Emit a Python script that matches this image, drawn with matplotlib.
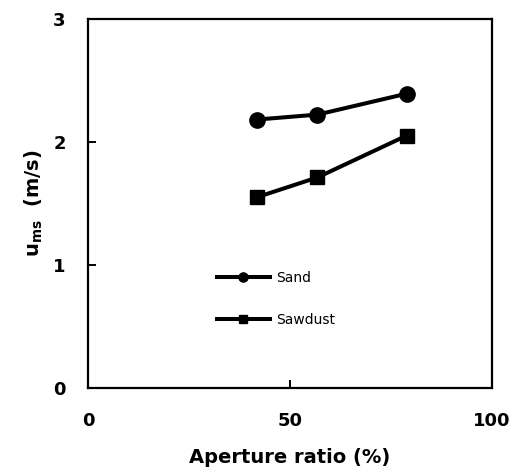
import matplotlib.pyplot as plt

# aperture ratio (%) and minimum spouting velocity (m/s)
aperture = [41.9, 56.8, 78.9]
sand = [2.18, 2.22, 2.39]
sawdust = [1.55, 1.71, 2.05]

fig = plt.figure(figsize=(5.16, 4.74), dpi=100)
ax = fig.add_axes([0.1705, 0.1814, 0.783, 0.7795])

ax.plot(aperture, sand, color='black', lw=2.9, marker='o', ms=11, label='Sand')
ax.plot(aperture, sawdust, color='black', lw=2.9, marker='s', ms=10.5, label='Sawdust')

ax.set_xlim(0, 100)
ax.set_ylim(0, 3)
ax.set_xticks([0, 50, 100])
ax.set_yticks([0, 1, 2, 3])
for s in ax.spines.values():
    s.set_linewidth(1.6)
ax.tick_params(direction='in', length=6, width=1.4, labelsize=13, pad=17)
ax.tick_params(axis='y', pad=16)
for lab in ax.get_xticklabels() + ax.get_yticklabels():
    lab.set_fontweight('bold')

ax.set_xlabel('Aperture ratio (%)', fontsize=14, fontweight='bold', labelpad=13)
ax.set_ylabel(r'$\mathbf{u_{ms}}$  (m/s)', fontsize=14, fontweight='bold', labelpad=6)

ax.legend(loc='upper left', bbox_to_anchor=(0.319, 0.317), frameon=False,
          fontsize=10, handlelength=3.8, handletextpad=0.45, labelspacing=2.0,
          markerscale=0.6, borderpad=0, borderaxespad=0)

fig.savefig('out.png', dpi=100)
